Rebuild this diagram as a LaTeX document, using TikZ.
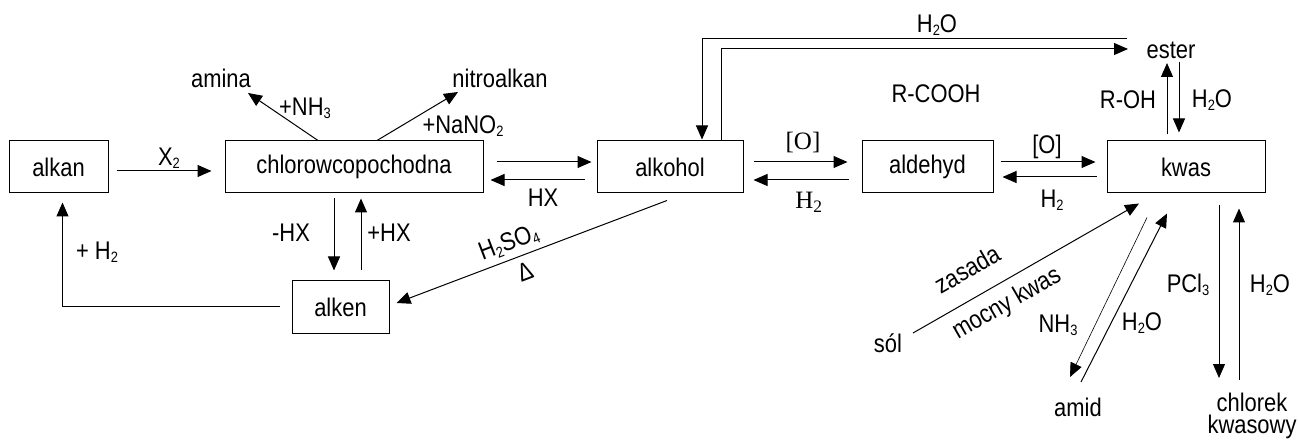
\documentclass[tikz,border=0pt]{standalone}
\usepackage{fontspec}
\setmainfont[FakeStretch=0.86]{Liberation Sans}
\newfontfamily\serifx{Liberation Serif}
\usetikzlibrary{arrows.meta,calc}
\newcommand{\sbs}[1]{\raisebox{-0.25ex}{\fontsize{15}{15}\selectfont #1}}
\begin{document}
\begin{tikzpicture}[x=1pt,y=-1pt,
  every node/.style={font=\fontsize{25.5}{27}\selectfont, inner sep=0pt},
  box/.style={draw, line width=1pt, minimum height=52pt},
  srf/.style={font=\serifx\fontsize{25}{27}\selectfont},
  arr/.style={line width=1pt, -{Triangle[length=14pt,width=12pt]}},
  thinarr/.style={line width=0.6pt, -{Triangle[length=14pt,width=12pt]}},
]
\useasboundingbox[fill=white] (0,0) rectangle (1298,446);

% boxes
\node[box, minimum width=99pt]  (alkan)   at (58.5,167) {alkan};
\node[box, minimum width=258pt] (chloro)  at (354,167)  {chlorowcopochodna};
\node[box, minimum width=146pt] (alkohol) at (670,167)  {alkohol};
\node[box, minimum width=131pt] (aldehyd) at (927.5,167) {aldehyd};
\node[box, minimum width=158pt] (kwas)    at (1186,167) {kwas};
\node[box, minimum width=97pt]  (alken)   at (340.5,307) {alken};

% free texts
\node (amina) at (221,78) {amina};
\node (nitro) at (500,78) {nitroalkan};
\node (ester) at (1171,50) {ester};
\node (sol)   at (888,343) {sól};
\node (amid)  at (1078,407) {amid};
\node[align=center, font=\fontsize{25.5}{22}\selectfont] (chlorek) at (1252,416) {chlorek\\kwasowy};
\node (rcooh) at (936,94) {R-COOH};

% labels
\node (lx2)    at (169,158) {X\sbs{2}};
\node (lnh3)   at (305,108) {+NH\sbs{3}};
\node (lnano2) at (463,126) {+NaNO\sbs{2}};
\node (lhx)    at (543,198) {HX};
\node[srf] (lo1) at (803,143) {[O]};
\node[srf] (lh1) at (809,202) {H\textsubscript{2}};
\node (lo2)    at (1047,147) {[O]};
\node (lh2)    at (1052,200) {H\sbs{2}};
\node (lmhx)   at (291,233) {-HX};
\node (lphx)   at (389,233) {+HX};
\node (lph2)   at (97,252) {+ H\sbs{2}};
\node[rotate=21] (lh2so4) at (509,243) {H\sbs{2}SO\sbs{4}};
\node[rotate=21] (ldelta) at (525,272) {Δ};
\node (lh2otop) at (937,25) {H\sbs{2}O};
\node (lroh)   at (1128,100) {R-OH};
\node (lh2oe)  at (1212,100) {H\sbs{2}O};
\node[rotate=30] (lzas) at (967,269) {zasada};
\node[rotate=30] (lmoc) at (1007,304) {mocny kwas};
\node (lnh3b)  at (1058,325) {NH\sbs{3}};
\node (lh2oa)  at (1142,323) {H\sbs{2}O};
\node (lpcl3)  at (1188,285) {PCl\sbs{3}};
\node (lh2oc)  at (1270,285) {H\sbs{2}O};

% connectors
\draw[arr] ($(alkan.east)+(8,4)$) -- ($(chloro.west)+(-13,4)$);
\draw[arr] ($(chloro.north)+(-36,0)$) -- ($(amina.center)+(27,15)$);
\draw[arr] ($(chloro.north)+(23,0)$) -- ($(nitro.center)+(-42,14)$);

\draw[arr] ($(chloro.east)+(13,-5)$) -- ($(alkohol.west)+(-5,-5)$);
\draw[arr] ($(alkohol.west)+(-12,13)$) -- ($(chloro.east)+(7,13)$);

\draw[arr] ($(alkohol.east)+(10,-5)$) -- ($(aldehyd.west)+(-14,-5)$);
\draw[arr] ($(aldehyd.west)+(-13,13)$) -- ($(alkohol.east)+(10,13)$);

\draw[arr] ($(aldehyd.east)+(7,-5)$) -- ($(kwas.west)+(-11,-5)$);
\draw[arr] ($(kwas.west)+(-10,10)$) -- ($(aldehyd.east)+(9,10)$);

\draw[arr] ($(chloro.south)+(-20,5)$) -- ($(alken.north)+(-6.5,-10)$);
\draw[arr] ($(alken.north)+(20.5,-10)$) -- ($(chloro.south)+(7,5)$);

\draw[arr] ($(alken.west)+(-12,-1)$) -| ($(alkan.south)+(4,9)$);

\draw[arr] ($(alkohol.south)+(-3,7)$) -- ($(alken.east)+(7,-4)$);

\draw[arr] ($(ester.center)+(-44,-11)$) -| ($(alkohol.north)+(32,-1)$);
\draw[arr] ($(alkohol.north)+(51,0)$) |- ($(ester.center)+(-43,-1)$);

\draw[arr] ($(kwas.north)+(-19,-6)$) -- ($(ester.center)+(-4,13)$);
\draw[arr] ($(ester.center)+(8,12)$) -- ($(kwas.north)+(-7,-8)$);

\draw[arr] ($(sol.center)+(25,-10)$) -- ($(kwas.south)+(-47,10)$);
\draw[thinarr] ($(kwas.south)+(-39,24)$) -- ($(amid.center)+(-8,-30)$);
\draw[arr] ($(amid.center)+(3,-25)$) -- ($(kwas.south)+(-19,20)$);

\draw[arr] ($(kwas.south)+(33,12)$) -- ($(chlorek.center)+(-33,-38)$);
\draw[arr] ($(chlorek.center)+(-13,-36)$) -- ($(kwas.south)+(53,15)$);
\end{tikzpicture}
\end{document}
